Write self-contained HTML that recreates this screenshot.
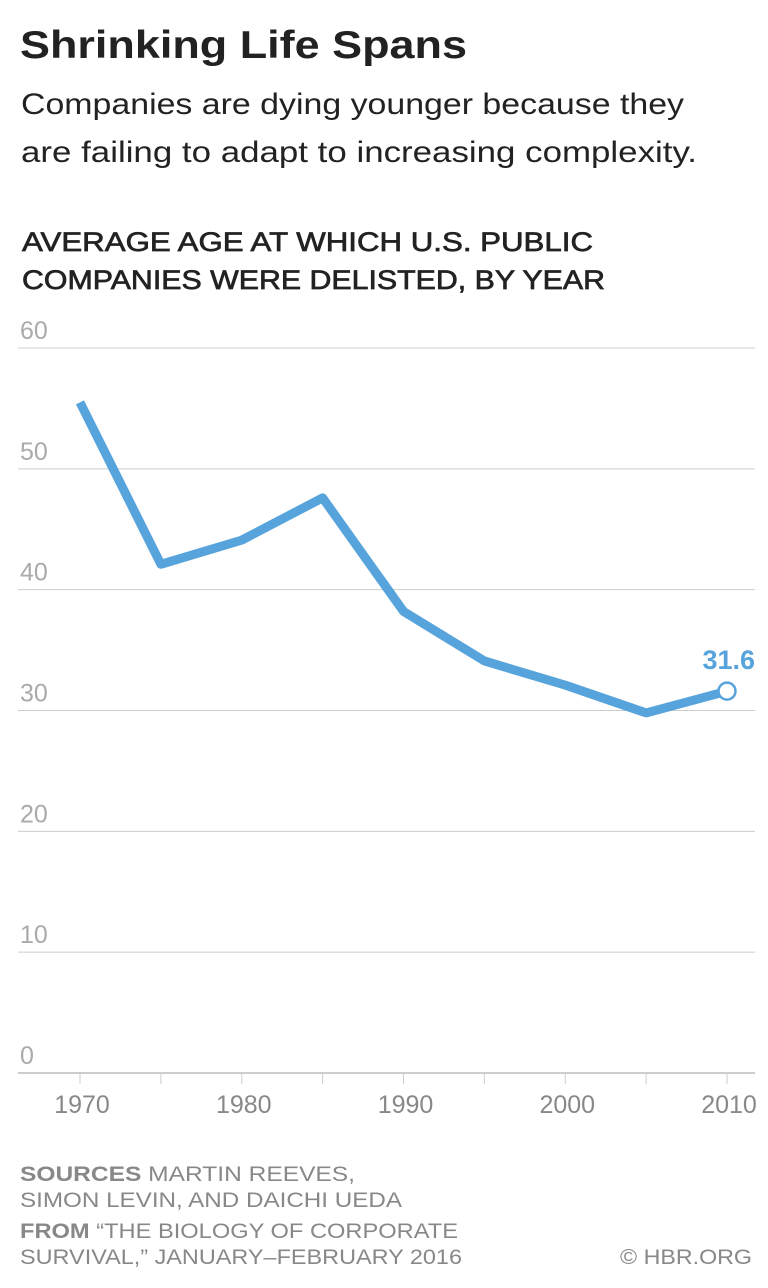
<!DOCTYPE html>
<html><head><meta charset="utf-8"><style>
body{margin:0;background:#fff;width:768px;height:1288px;overflow:hidden;font-family:"Liberation Sans",sans-serif;}
svg{position:absolute;left:0;top:0}
</style></head><body>
<svg width="768" height="1288">
<text x="20" y="58" font-size="39" font-weight="bold" fill="#222" textLength="447" lengthAdjust="spacingAndGlyphs">Shrinking Life Spans</text>
<text x="21" y="114" font-size="30" fill="#222" textLength="663" lengthAdjust="spacingAndGlyphs">Companies are dying younger because they</text>
<text x="21" y="162" font-size="30" fill="#222" textLength="676" lengthAdjust="spacingAndGlyphs">are failing to adapt to increasing complexity.</text>
<text x="22" y="251" font-size="27" fill="#222" stroke="#222" stroke-width="0.7" textLength="571" lengthAdjust="spacingAndGlyphs">AVERAGE AGE AT WHICH U.S. PUBLIC</text>
<text x="22" y="289" font-size="27" fill="#222" stroke="#222" stroke-width="0.7" textLength="583" lengthAdjust="spacingAndGlyphs">COMPANIES WERE DELISTED, BY YEAR</text>
<g id="grid"></g><g id="xaxis"></g><g id="series"></g>
<g font-size="21" fill="#888">
<text x="20" y="1181" textLength="335" lengthAdjust="spacingAndGlyphs"><tspan font-weight="bold">SOURCES</tspan>  MARTIN REEVES,</text>
<text x="20" y="1207" textLength="382" lengthAdjust="spacingAndGlyphs">SIMON LEVIN, AND DAICHI UEDA</text>
<text x="20" y="1238" textLength="438" lengthAdjust="spacingAndGlyphs"><tspan font-weight="bold">FROM</tspan>  “THE BIOLOGY OF CORPORATE</text>
<text x="20" y="1264" textLength="442" lengthAdjust="spacingAndGlyphs">SURVIVAL,” JANUARY–FEBRUARY 2016</text>
<text x="752" y="1264" text-anchor="end" textLength="132" lengthAdjust="spacingAndGlyphs">© HBR.ORG</text>
</g>
</svg>
<script>
const years=[1970,1975,1980,1985,1990,1995,2000,2005,2010];
const ages=[55.5,42.1,44.1,47.6,38.2,34.1,32.1,29.8,31.6];
const yTicks=[0,10,20,30,40,50,60];
const xLabels=[1970,1980,1990,2000,2010];
const NS="http://www.w3.org/2000/svg";
const X=v=>80+(v-1970)*(727-80)/40;
const Y=v=>1073-v*(1073-348)/60;
function mk(t,a,p){const e=document.createElementNS(NS,t);for(const k in a)e.setAttribute(k,a[k]);p.appendChild(e);return e;}
const g=document.getElementById('grid');
yTicks.forEach(v=>{
 const l=mk('line',{x1:18,x2:755,y1:Y(v),y2:Y(v),stroke:v===0?'#bbb':'#ccc','stroke-width':v===0?1.5:1},g);
 
 
 const t=mk('text',{x:20,y:Y(v)-9,'font-size':25,fill:'#aaa'},g);t.textContent=v;
 
 
});
const xa=document.getElementById('xaxis');
years.forEach(v=>{
 const l=mk('line',{x1:X(v),x2:X(v),y1:1073,y2:1084,stroke:'#ccc','stroke-width':1},xa);
 
 
});
xLabels.forEach(v=>{
 const t=mk('text',{x:X(v)+2,y:1113,'font-size':25,fill:'#888','text-anchor':'middle'},xa);t.textContent=v;
 
 
});
const s=document.getElementById('series');
const p=mk('polyline',{points:years.map((y,i)=>X(y)+','+Y(ages[i])).join(' '),fill:'none',stroke:'#57a3db','stroke-width':9,'stroke-linejoin':'round','stroke-linecap':'butt'},s);


const n=years.length-1;
const c=mk('circle',{cx:X(years[n]),cy:Y(ages[n]),r:8.5,fill:'#fff',stroke:'#57a3db','stroke-width':2.5},s);


const lb=mk('text',{x:755,y:Y(ages[n])-22,'font-size':27,'font-weight':'bold',fill:'#57a3db','text-anchor':'end'},s);lb.textContent=ages[n].toFixed(1);


</script>
</body></html>
